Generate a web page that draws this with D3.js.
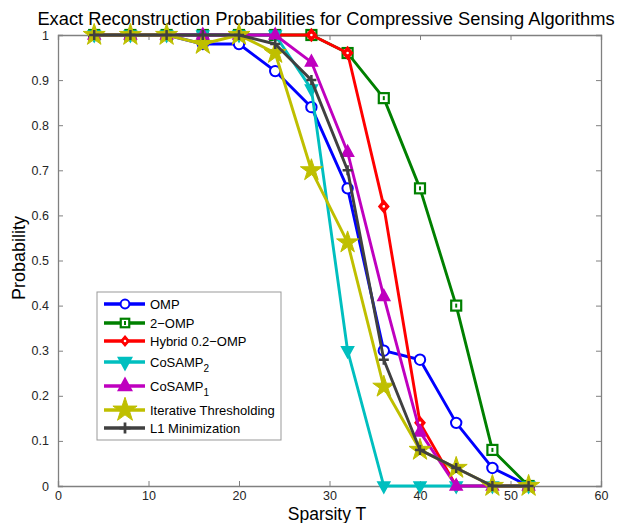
<!DOCTYPE html>
<html>
<head>
<meta charset="utf-8">
<script src="https://cdn.jsdelivr.net/npm/d3@7"></script>
<style>
body { margin: 0; background: #fff; }
text { font-family: "Liberation Sans", Arial, sans-serif; }
</style>
</head>
<body>
<script>
// sparsity levels
var sparsity = [4, 8, 12, 16, 20, 24, 28, 32, 36, 40, 44, 48, 52];

// probabilities per algorithm
var omp       = [1, 1, 1, 0.98, 0.98, 0.92, 0.84, 0.66, 0.30, 0.28, 0.14, 0.04, 0];
var omp2      = [1, 1, 1, 1, 1, 1, 1, 0.96, 0.86, 0.66, 0.40, 0.08, 0];
var hybrid    = [1, 1, 1, 1, 1, 1, 1, 0.96, 0.62, 0.14, 0, 0, 0];
var cosamp2   = [1, 1, 1, 1, 1, 1, 0.88, 0.30, 0, 0, 0, 0, 0];
var cosamp1   = [1, 1, 1, 1, 1, 1, 0.94, 0.74, 0.42, 0.12, 0, 0, 0];
var iterative = [1, 1, 1, 0.98, 1, 0.96, 0.70, 0.54, 0.22, 0.08, 0.04, 0, 0];
var l1min     = [1, 1, 1, 1, 1, 0.98, 0.90, 0.70, 0.28, 0.08, 0.04, 0, 0];

var xTicks = [0, 10, 20, 30, 40, 50, 60];
var yTicks = [0, 0.1, 0.2, 0.3, 0.4, 0.5, 0.6, 0.7, 0.8, 0.9, 1];

var series = [
	{name: 'OMP', sub: null, vals: omp, color: '#0000ff', marker: 'circle'},
	{name: '2\u2212OMP', sub: null, vals: omp2, color: '#008000', marker: 'square'},
	{name: 'Hybrid 0.2\u2212OMP', sub: null, vals: hybrid, color: '#ff0000', marker: 'diamond'},
	{name: 'CoSAMP', sub: '2', vals: cosamp2, color: '#00bfbf', marker: 'down'},
	{name: 'CoSAMP', sub: '1', vals: cosamp1, color: '#bf00bf', marker: 'up'},
	{name: 'Iterative Thresholding', sub: null, vals: iterative, color: '#bfbf00', marker: 'star'},
	{name: 'L1 Minimization', sub: null, vals: l1min, color: '#404040', marker: 'plus'}
];

var width = 620, height = 523;
var padL = 58, padR = 601, padT = 35, padB = 486;

var svg = d3.select('body').append('svg').attr('width', width).attr('height', height);

var x = d3.scaleLinear().domain([0, 60]).range([padL, padR]);
var y = d3.scaleLinear().domain([0, 1]).range([padB, padT]);

var axisColor = '#808080', labelColor = '#262626';

// axes (ticks inward, MATLAB style)
svg.append('g').attr('transform', 'translate(0,' + padB + ')')
	.call(d3.axisBottom(x).tickValues(xTicks).tickSize(-5).tickPadding(5).tickFormat(d3.format('d')));
svg.append('g').attr('transform', 'translate(0,' + padT + ')')
	.call(d3.axisTop(x).tickValues(xTicks).tickSize(-5).tickFormat(''));
svg.append('g').attr('transform', 'translate(' + padL + ',0)')
	.call(d3.axisLeft(y).tickValues(yTicks).tickSize(-5).tickPadding(9).tickFormat(d => d === 0 || d === 1 ? d3.format('d')(d) : d3.format('.1f')(d)));
svg.append('g').attr('transform', 'translate(' + padR + ',0)')
	.call(d3.axisRight(y).tickValues(yTicks).tickSize(-5).tickFormat(''));

svg.selectAll('.domain').attr('stroke', axisColor).attr('stroke-width', 1.3);
svg.selectAll('.tick line').attr('stroke', axisColor);
svg.selectAll('.tick text').attr('fill', labelColor).attr('font-size', 12.5)
	.attr('font-family', '"Liberation Sans", Arial, sans-serif');

// titles
svg.append('text').attr('x', 326).attr('y', 25).attr('text-anchor', 'middle')
	.attr('font-size', 18.3).attr('fill', '#000')
	.text('Exact Reconstruction Probabilities for Compressive Sensing Algorithms');
svg.append('text').attr('x', 327).attr('y', 520).attr('text-anchor', 'middle')
	.attr('font-size', 17.5).attr('fill', '#000').text('Sparsity T');
svg.append('text').attr('transform', 'translate(25,258) rotate(-90)')
	.attr('text-anchor', 'middle').attr('font-size', 18).attr('fill', '#000').text('Probability');

// marker drawing
function drawMarker(g, type, color, k) {
	k = k || 1;
	if (type === 'circle') {
		g.append('circle').attr('r', 5.2 * k).attr('fill', '#fff').attr('stroke', color).attr('stroke-width', 2);
	} else if (type === 'square') {
		g.append('rect').attr('x', -5 * k).attr('y', -5 * k).attr('width', 10 * k).attr('height', 10 * k)
			.attr('fill', '#fff').attr('stroke', color).attr('stroke-width', 2.2);
		g.append('rect').attr('x', -1).attr('y', -2).attr('width', 2).attr('height', 4).attr('fill', color);
	} else if (type === 'diamond') {
		g.append('path').attr('d', 'M0,-6L5,0L0,6L-5,0Z').attr('transform', 'scale(' + k + ')')
			.attr('fill', color).attr('stroke', color).attr('stroke-width', 1.5);
		g.append('circle').attr('r', 1.3).attr('fill', '#fff');
	} else if (type === 'down') {
		g.append('path').attr('d', 'M-6,-4L6,-4L0,7Z').attr('transform', 'scale(' + k + ')')
			.attr('fill', color).attr('stroke', color).attr('stroke-width', 1.5);
	} else if (type === 'up') {
		g.append('path').attr('d', 'M-6,4L6,4L0,-7Z').attr('transform', 'scale(' + k + ')')
			.attr('fill', color).attr('stroke', color).attr('stroke-width', 1.5);
	} else if (type === 'star') {
		g.append('path').attr('d', d3.symbol(d3.symbolStar, 150 * k * k)()).attr('fill', color).attr('stroke', color).attr('stroke-width', 1);
	} else if (type === 'plus') {
		g.append('path').attr('d', 'M-5,0L5,0M0,-5L0,5').attr('transform', 'scale(' + k + ')')
			.attr('stroke', color).attr('stroke-width', 2.5);
	}
}

var line = d3.line().x(d => x(d[0])).y(d => y(d[1]));

var plot = svg.append('g');
series.forEach(s => {
	var pts = sparsity.map((t, i) => [t, s.vals[i]]);
	var g = plot.append('g');
	g.append('path').datum(pts).attr('d', line).attr('fill', 'none')
		.attr('stroke', s.color).attr('stroke-width', 2.9).attr('stroke-linejoin', 'round');
	pts.forEach(p => {
		var m = g.append('g').attr('transform', 'translate(' + x(p[0]) + ',' + y(p[1]) + ')');
		drawMarker(m, s.marker, s.color);
	});
});

// legend
var lgX = 97, lgY = 292, lgW = 184, lgH = 148;
var legend = svg.append('g');
legend.append('rect').attr('x', lgX).attr('y', lgY).attr('width', lgW).attr('height', lgH)
	.attr('fill', '#fff').attr('stroke', '#999').attr('stroke-width', 1);
var rowY = [304, 323, 341, 362, 386, 410, 428];
series.forEach((s, i) => {
	var ry = rowY[i];
	legend.append('line').attr('x1', 104).attr('x2', 145).attr('y1', ry).attr('y2', ry)
		.attr('stroke', s.color).attr('stroke-width', 3.5);
	var m = legend.append('g').attr('transform', 'translate(125,' + ry + ')');
	drawMarker(m, s.marker, s.color, s.marker === 'circle' || s.marker === 'square' || s.marker === 'diamond' ? 0.85 : 1.1);
	var t = legend.append('text').attr('x', 150).attr('y', ry + 5).attr('font-size', 13).attr('fill', '#000').text(s.name);
	if (s.sub) {
		t.append('tspan').attr('dy', 5).attr('font-size', 10).text(s.sub);
	}
});
</script>
</body>
</html>
